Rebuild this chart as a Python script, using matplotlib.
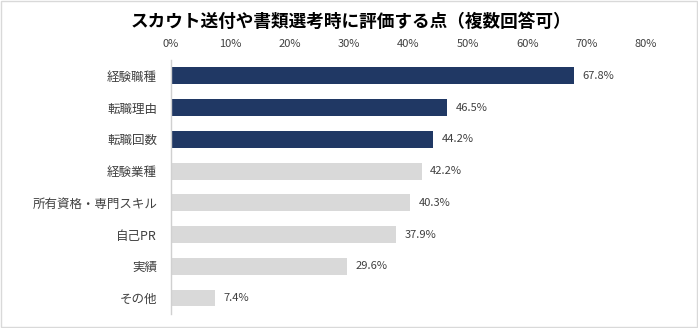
import matplotlib
matplotlib.use("Agg")
import matplotlib.pyplot as plt
from matplotlib.patches import Rectangle

plt.rcParams['font.family'] = ['Noto Sans CJK JP', 'DejaVu Sans']

categories = ["経験職種", "転職理由", "転職回数", "経験業種", "所有資格・専門スキル", "自己PR", "実績", "その他"]
values = [67.8, 46.5, 44.2, 42.2, 40.3, 37.9, 29.6, 7.4]
highlight = [True, True, True, False, False, False, False, False]
xticks = [0, 10, 20, 30, 40, 50, 60, 70, 80]
xtick_labels = ["0%", "10%", "20%", "30%", "40%", "50%", "60%", "70%", "80%"]
title = "スカウト送付や書類選考時に評価する点（複数回答可）"

navy = "#203864"
gray = "#D9D9D9"

fig = plt.figure(figsize=(6.98, 3.28), dpi=100)
ax = fig.add_axes([0.245, 0.043, 0.6805, 0.774])

ypos = list(range(len(categories)))
colors = [navy if h else gray for h in highlight]
ax.barh(ypos, values, height=0.53, color=colors)
ax.set_ylim(len(categories) - 0.5, -0.5)
ax.set_xlim(0, 80)
ax.set_yticks(ypos)
ax.set_yticklabels(categories, fontsize=9, color="#404040")
ax.set_xticks(xticks)
ax.set_xticklabels(xtick_labels, fontsize=8, color="#404040")
ax.xaxis.tick_top()
ax.tick_params(axis='both', length=0)
ax.tick_params(axis='x', pad=8)
ax.tick_params(axis='y', pad=10)
for s in ["top", "right", "bottom"]:
    ax.spines[s].set_visible(False)
ax.spines["left"].set_color("#D0D0D0")
ax.spines["left"].set_linewidth(1.0)

for y, v in zip(ypos, values):
    ax.annotate(f"{v:.1f}%", xy=(v, y), xytext=(6, 0), textcoords="offset points",
                va="center", ha="left", fontsize=8, color="#404040")

fig.text(0.503, 0.932, title, ha="center", va="center", fontsize=12.7, fontweight="bold", color="#000000")

fig.patches.append(Rectangle((0.001, 0.002), 0.997, 0.995, transform=fig.transFigure,
                             fill=False, edgecolor="#D9D9D9", linewidth=1.0))

fig.savefig("out.png", dpi=100)
